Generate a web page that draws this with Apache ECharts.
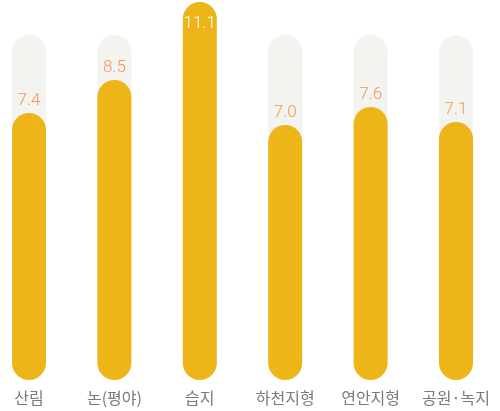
<!DOCTYPE html>
<html>
<head>
<meta charset="utf-8">
<script src="https://cdn.jsdelivr.net/npm/echarts@6/dist/echarts.min.js"></script>
<style>
  html, body { margin: 0; padding: 0; background: #ffffff; }
  #chart { width: 500px; height: 411px; }
</style>
</head>
<body>
<div id="chart"></div>
<script>
// Land-cover categories and their values
const categories = ['산림', '논(평야)', '습지', '하천지형', '연안지형', '공원·녹지'];
const values = [7.4, 8.5, 11.1, 7.0, 7.6, 7.1];
// Background track height for every column
const trackValues = [10, 10, 10, 10, 10, 10];
// Rounded foot under each column (same for all)
const footValues = [1.5, 1.5, 1.5, 1.5, 1.5, 1.5];

const YELLOW = '#EDB518';
const TRACK = '#F3F3EF';
const ORANGE = '#F29656';
const R = 17.5;

const chart = echarts.init(document.getElementById('chart'), null, { renderer: 'canvas' });

chart.setOption({
  animation: false,
  // 378px of plot for 12.6 units keeps every segment edge on a whole pixel
  grid: { left: 29, right: 44, top: 2, bottom: 31, containLabel: false },
  xAxis: {
    type: 'category',
    data: categories,
    boundaryGap: false,
    axisLine: { show: false },
    axisTick: { show: false },
    axisLabel: {
      interval: 0,
      color: '#7a7a7a',
      fontSize: 16,
      fontFamily: 'Noto Sans CJK KR',
      margin: 10
    }
  },
  yAxis: {
    type: 'value',
    min: 0,
    max: 12.6,
    show: false,
    splitLine: { show: false }
  },
  series: [
    {
      name: 'trackFoot',
      type: 'bar',
      stack: 'track',
      barWidth: 34,
      barGap: '-100%',
      data: footValues,
      itemStyle: { color: TRACK, borderRadius: [0, 0, R, R] },
      silent: true
    },
    {
      name: 'track',
      type: 'bar',
      stack: 'track',
      barWidth: 34,
      barGap: '-100%',
      data: trackValues,
      itemStyle: { color: TRACK, borderRadius: [R, R, 0, 0] },
      silent: true
    },
    {
      name: 'foot',
      type: 'bar',
      stack: 'value',
      barWidth: 34,
      barGap: '-100%',
      data: footValues,
      itemStyle: { color: YELLOW, borderRadius: [0, 0, R, R] }
    },
    {
      name: 'value',
      type: 'bar',
      stack: 'value',
      barWidth: 34,
      barGap: '-100%',
      data: values.map(function (v, i) {
        const over = v > trackValues[i];
        return {
          value: v,
          label: over
            ? { position: 'insideTop', distance: 13, color: '#ffffff' }
            : { position: 'top', distance: 4, color: ORANGE }
        };
      }),
      itemStyle: { color: YELLOW, borderRadius: [R, R, 0, 0] },
      label: {
        show: true,
        fontFamily: 'Roboto',
        fontWeight: 300,
        fontSize: 17,
        formatter: function (p) { return p.value.toFixed(1); }
      }
    }
  ]
});
</script>
</body>
</html>
